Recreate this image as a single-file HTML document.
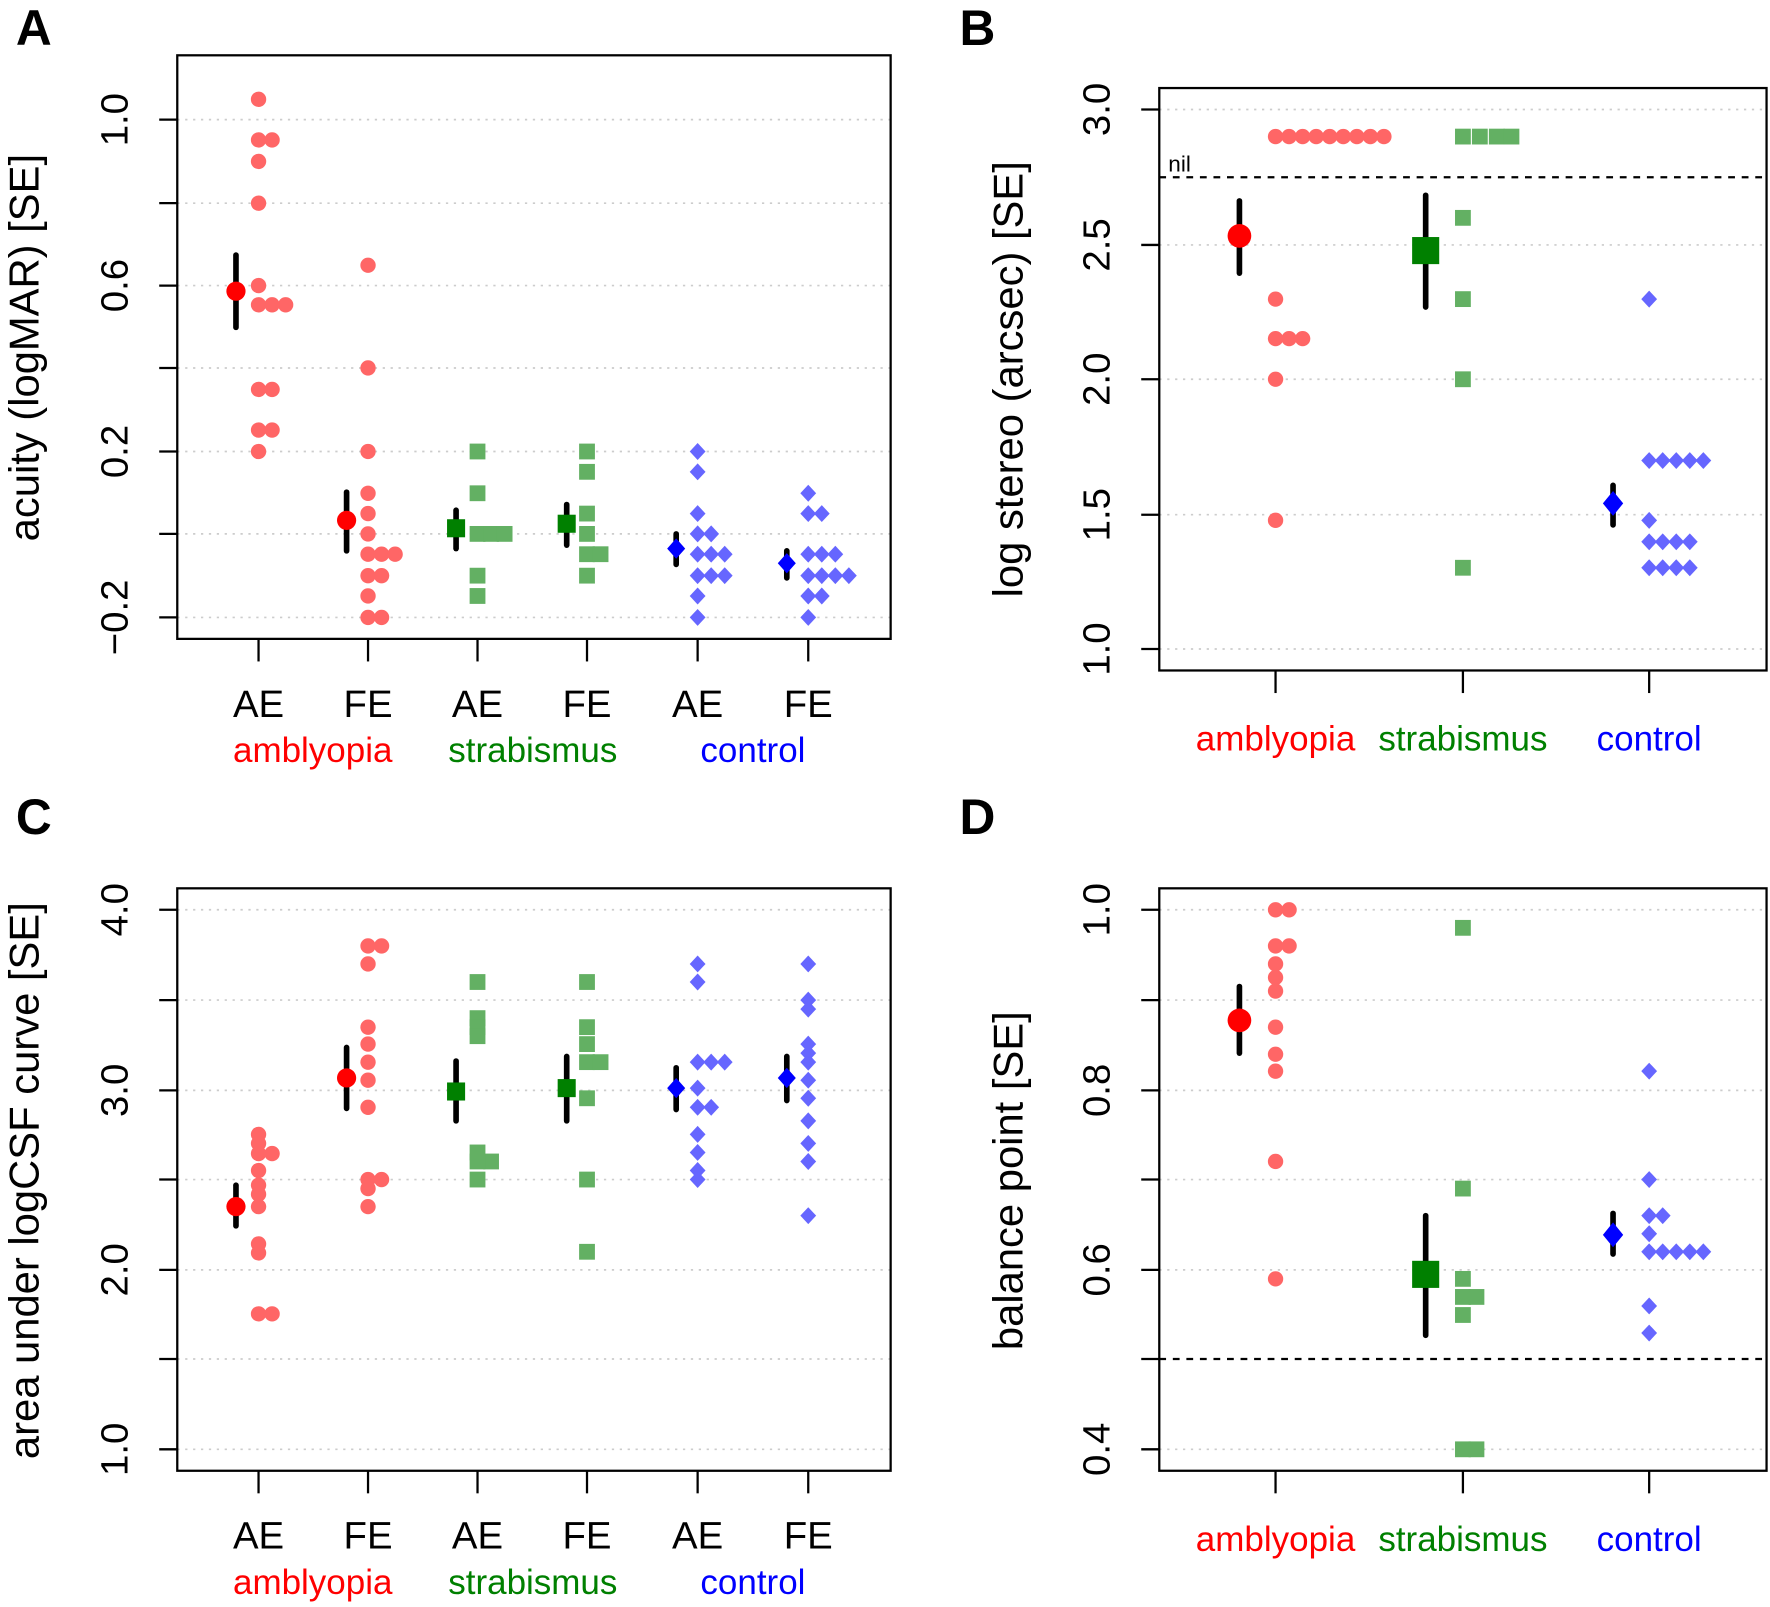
<!DOCTYPE html>
<html><head><meta charset="utf-8"><style>html,body{margin:0;padding:0;background:#fff}svg{display:block}</style></head>
<body>
<svg width="1770" height="1607" viewBox="0 0 1568 1423.7" xmlns="http://www.w3.org/2000/svg" font-family="Liberation Sans, Arial, sans-serif">
<defs>
<circle id="c" r="6.8" fill="#ff6666"/>
<rect id="s" x="-7" y="-7" width="14" height="14" fill="#63b063"/>
<path id="d" d="M0,-7.5L7,0L0,7.5L-7,0Z" fill="#6666ff"/>
</defs>
<rect width="1568" height="1424" fill="#fff"/>
<g font-weight="bold" font-size="44"><text x="14" y="40">A</text><text x="850" y="40">B</text><text x="14" y="739">C</text><text x="850" y="739">D</text></g>

<!-- ===== Panel A ===== -->
<g stroke="#ccc" stroke-width="1.5" stroke-dasharray="2,5">
<line x1="157" x2="789" y1="106" y2="106"/><line x1="157" x2="789" y1="180" y2="180"/><line x1="157" x2="789" y1="253" y2="253"/><line x1="157" x2="789" y1="326" y2="326"/><line x1="157" x2="789" y1="400" y2="400"/><line x1="157" x2="789" y1="473" y2="473"/><line x1="157" x2="789" y1="547" y2="547"/>
</g>
<rect x="157" y="49" width="632" height="517" fill="none" stroke="#000" stroke-width="2"/>
<g stroke="#000" stroke-width="2">
<line x1="141" x2="157" y1="106" y2="106"/><line x1="141" x2="157" y1="180" y2="180"/><line x1="141" x2="157" y1="253" y2="253"/><line x1="141" x2="157" y1="326" y2="326"/><line x1="141" x2="157" y1="400" y2="400"/><line x1="141" x2="157" y1="473" y2="473"/><line x1="141" x2="157" y1="547" y2="547"/>
<line x1="229" x2="229" y1="566" y2="586"/><line x1="326" x2="326" y1="566" y2="586"/><line x1="423" x2="423" y1="566" y2="586"/><line x1="520" x2="520" y1="566" y2="586"/><line x1="618" x2="618" y1="566" y2="586"/><line x1="716" x2="716" y1="566" y2="586"/>
</g>
<g font-size="34" text-anchor="middle">
<text transform="translate(113,106) rotate(-90)">1.0</text><text transform="translate(113,253) rotate(-90)">0.6</text><text transform="translate(113,400) rotate(-90)">0.2</text><text transform="translate(113,547) rotate(-90)">−0.2</text>
<text transform="translate(34,308) rotate(-90)" font-size="37">acuity (logMAR) [SE]</text>
<text x="229" y="635">AE</text><text x="326" y="635">FE</text><text x="423" y="635">AE</text><text x="520" y="635">FE</text><text x="618" y="635">AE</text><text x="716" y="635">FE</text>
<text x="277" y="675" font-size="31" fill="#ff0000">amblyopia</text><text x="472" y="675" font-size="31" fill="#008000">strabismus</text><text x="667" y="675" font-size="31" fill="#0000ff">control</text>
</g>
<g>
<use href="#c" x="229" y="88"/><use href="#c" x="229" y="124"/><use href="#c" x="241" y="124"/><use href="#c" x="229" y="143"/><use href="#c" x="229" y="180"/><use href="#c" x="229" y="253"/><use href="#c" x="229" y="270"/><use href="#c" x="241" y="270"/><use href="#c" x="253" y="270"/><use href="#c" x="229" y="345"/><use href="#c" x="241" y="345"/><use href="#c" x="229" y="381"/><use href="#c" x="241" y="381"/><use href="#c" x="229" y="400"/>
<use href="#c" x="326" y="235"/><use href="#c" x="326" y="326"/><use href="#c" x="326" y="400"/><use href="#c" x="326" y="437"/><use href="#c" x="326" y="455"/><use href="#c" x="326" y="473"/><use href="#c" x="326" y="491"/><use href="#c" x="338" y="491"/><use href="#c" x="350" y="491"/><use href="#c" x="326" y="510"/><use href="#c" x="338" y="510"/><use href="#c" x="326" y="528"/><use href="#c" x="326" y="547"/><use href="#c" x="338" y="547"/>
<use href="#s" x="423" y="400"/><use href="#s" x="423" y="437"/><use href="#s" x="423" y="473"/><use href="#s" x="435" y="473"/><use href="#s" x="447" y="473"/><use href="#s" x="423" y="510"/><use href="#s" x="423" y="528"/>
<use href="#s" x="520" y="400"/><use href="#s" x="520" y="418"/><use href="#s" x="520" y="455"/><use href="#s" x="520" y="473"/><use href="#s" x="520" y="491"/><use href="#s" x="532" y="491"/><use href="#s" x="520" y="510"/>
<use href="#d" x="618" y="400"/><use href="#d" x="618" y="418"/><use href="#d" x="618" y="455"/><use href="#d" x="618" y="473"/><use href="#d" x="630" y="473"/><use href="#d" x="618" y="491"/><use href="#d" x="630" y="491"/><use href="#d" x="642" y="491"/><use href="#d" x="618" y="510"/><use href="#d" x="630" y="510"/><use href="#d" x="642" y="510"/><use href="#d" x="618" y="528"/><use href="#d" x="618" y="547"/>
<use href="#d" x="716" y="437"/><use href="#d" x="716" y="455"/><use href="#d" x="728" y="455"/><use href="#d" x="716" y="491"/><use href="#d" x="728" y="491"/><use href="#d" x="740" y="491"/><use href="#d" x="716" y="510"/><use href="#d" x="728" y="510"/><use href="#d" x="740" y="510"/><use href="#d" x="752" y="510"/><use href="#d" x="716" y="528"/><use href="#d" x="728" y="528"/><use href="#d" x="716" y="547"/>
</g>
<g stroke="#000" stroke-width="5" stroke-linecap="round">
<line x1="209" x2="209" y1="226" y2="290"/><line x1="307" x2="307" y1="436" y2="488"/><line x1="404" x2="404" y1="452" y2="486"/><line x1="502" x2="502" y1="447" y2="483"/><line x1="599" x2="599" y1="473" y2="500"/><line x1="697" x2="697" y1="488" y2="512"/>
</g>
<circle cx="209" cy="258" r="8.5" fill="#f00"/><circle cx="307" cy="461" r="8.5" fill="#f00"/>
<rect x="396" y="460" width="16" height="16" fill="#008000"/><rect x="494" y="456" width="16" height="16" fill="#008000"/>
<path d="M599,477L607,486L599,495L591,486Z" fill="#00f"/><path d="M697,490L705,499L697,508L689,499Z" fill="#00f"/>

<!-- ===== Panel B ===== -->
<g stroke="#ccc" stroke-width="1.5" stroke-dasharray="2,5">
<line x1="1027" x2="1565" y1="97" y2="97"/><line x1="1027" x2="1565" y1="217" y2="217"/><line x1="1027" x2="1565" y1="336" y2="336"/><line x1="1027" x2="1565" y1="456" y2="456"/><line x1="1027" x2="1565" y1="575" y2="575"/>
</g>
<line x1="1027" x2="1565" y1="157" y2="157" stroke="#000" stroke-width="2" stroke-dasharray="6,6"/>
<text x="1035" y="152" font-size="20">nil</text>
<rect x="1027" y="78" width="538" height="516" fill="none" stroke="#000" stroke-width="2"/>
<g stroke="#000" stroke-width="2">
<line x1="1011" x2="1027" y1="97" y2="97"/><line x1="1011" x2="1027" y1="217" y2="217"/><line x1="1011" x2="1027" y1="336" y2="336"/><line x1="1011" x2="1027" y1="456" y2="456"/><line x1="1011" x2="1027" y1="575" y2="575"/>
<line x1="1130" x2="1130" y1="594" y2="614"/><line x1="1296" x2="1296" y1="594" y2="614"/><line x1="1461" x2="1461" y1="594" y2="614"/>
</g>
<g font-size="34" text-anchor="middle">
<text transform="translate(983,97) rotate(-90)">3.0</text><text transform="translate(983,217) rotate(-90)">2.5</text><text transform="translate(983,336) rotate(-90)">2.0</text><text transform="translate(983,456) rotate(-90)">1.5</text><text transform="translate(983,575) rotate(-90)">1.0</text>
<text transform="translate(906,336) rotate(-90)" font-size="37">log stereo (arcsec) [SE]</text>
<text x="1130" y="665" font-size="31" fill="#ff0000">amblyopia</text><text x="1296" y="665" font-size="31" fill="#008000">strabismus</text><text x="1461" y="665" font-size="31" fill="#0000ff">control</text>
</g>
<g>
<use href="#c" x="1130" y="121"/><use href="#c" x="1142" y="121"/><use href="#c" x="1154" y="121"/><use href="#c" x="1166" y="121"/><use href="#c" x="1178" y="121"/><use href="#c" x="1190" y="121"/><use href="#c" x="1202" y="121"/><use href="#c" x="1214" y="121"/><use href="#c" x="1226" y="121"/>
<use href="#c" x="1130" y="265"/><use href="#c" x="1130" y="300"/><use href="#c" x="1142" y="300"/><use href="#c" x="1154" y="300"/><use href="#c" x="1130" y="336"/><use href="#c" x="1130" y="461"/>
<use href="#s" x="1296" y="121"/><use href="#s" x="1311" y="121"/><use href="#s" x="1326" y="121"/><use href="#s" x="1339" y="121"/><use href="#s" x="1296" y="193"/><use href="#s" x="1296" y="265"/><use href="#s" x="1296" y="336"/><use href="#s" x="1296" y="503"/>
<use href="#d" x="1461" y="265"/><use href="#d" x="1461" y="408"/><use href="#d" x="1473" y="408"/><use href="#d" x="1485" y="408"/><use href="#d" x="1497" y="408"/><use href="#d" x="1509" y="408"/><use href="#d" x="1461" y="461"/><use href="#d" x="1461" y="480"/><use href="#d" x="1473" y="480"/><use href="#d" x="1485" y="480"/><use href="#d" x="1497" y="480"/><use href="#d" x="1461" y="503"/><use href="#d" x="1473" y="503"/><use href="#d" x="1485" y="503"/><use href="#d" x="1497" y="503"/>
</g>
<g stroke="#000" stroke-width="5" stroke-linecap="round">
<line x1="1098" x2="1098" y1="178" y2="242"/><line x1="1263" x2="1263" y1="173" y2="272"/><line x1="1429" x2="1429" y1="430" y2="465"/>
</g>
<circle cx="1098" cy="209" r="10.5" fill="#f00"/><rect x="1251" y="210" width="24" height="24" fill="#008000"/><path d="M1429,435L1438,446L1429,457L1420,446Z" fill="#00f"/>

<!-- ===== Panel C ===== -->
<g stroke="#ccc" stroke-width="1.5" stroke-dasharray="2,5">
<line x1="157" x2="789" y1="806" y2="806"/><line x1="157" x2="789" y1="886" y2="886"/><line x1="157" x2="789" y1="966" y2="966"/><line x1="157" x2="789" y1="1045" y2="1045"/><line x1="157" x2="789" y1="1125" y2="1125"/><line x1="157" x2="789" y1="1204" y2="1204"/><line x1="157" x2="789" y1="1284" y2="1284"/>
</g>
<rect x="157" y="787" width="632" height="516" fill="none" stroke="#000" stroke-width="2"/>
<g stroke="#000" stroke-width="2">
<line x1="141" x2="157" y1="806" y2="806"/><line x1="141" x2="157" y1="886" y2="886"/><line x1="141" x2="157" y1="966" y2="966"/><line x1="141" x2="157" y1="1045" y2="1045"/><line x1="141" x2="157" y1="1125" y2="1125"/><line x1="141" x2="157" y1="1204" y2="1204"/><line x1="141" x2="157" y1="1284" y2="1284"/>
<line x1="229" x2="229" y1="1303" y2="1323"/><line x1="326" x2="326" y1="1303" y2="1323"/><line x1="423" x2="423" y1="1303" y2="1323"/><line x1="520" x2="520" y1="1303" y2="1323"/><line x1="618" x2="618" y1="1303" y2="1323"/><line x1="716" x2="716" y1="1303" y2="1323"/>
</g>
<g font-size="34" text-anchor="middle">
<text transform="translate(113,806) rotate(-90)">4.0</text><text transform="translate(113,966) rotate(-90)">3.0</text><text transform="translate(113,1125) rotate(-90)">2.0</text><text transform="translate(113,1284) rotate(-90)">1.0</text>
<text transform="translate(34,1046) rotate(-90)" font-size="37">area under logCSF curve [SE]</text>
<text x="229" y="1372">AE</text><text x="326" y="1372">FE</text><text x="423" y="1372">AE</text><text x="520" y="1372">FE</text><text x="618" y="1372">AE</text><text x="716" y="1372">FE</text>
<text x="277" y="1412" font-size="31" fill="#ff0000">amblyopia</text><text x="472" y="1412" font-size="31" fill="#008000">strabismus</text><text x="667" y="1412" font-size="31" fill="#0000ff">control</text>
</g>
<g>
<use href="#c" x="229" y="1005"/><use href="#c" x="229" y="1013"/><use href="#c" x="229" y="1022"/><use href="#c" x="241" y="1022"/><use href="#c" x="229" y="1037"/><use href="#c" x="229" y="1050"/><use href="#c" x="229" y="1058"/><use href="#c" x="229" y="1069"/><use href="#c" x="229" y="1102"/><use href="#c" x="229" y="1110"/><use href="#c" x="229" y="1164"/><use href="#c" x="241" y="1164"/>
<use href="#c" x="326" y="838"/><use href="#c" x="338" y="838"/><use href="#c" x="326" y="854"/><use href="#c" x="326" y="910"/><use href="#c" x="326" y="925"/><use href="#c" x="326" y="941"/><use href="#c" x="326" y="957"/><use href="#c" x="326" y="981"/><use href="#c" x="326" y="1045"/><use href="#c" x="338" y="1045"/><use href="#c" x="326" y="1053"/><use href="#c" x="326" y="1069"/>
<use href="#s" x="423" y="870"/><use href="#s" x="423" y="902"/><use href="#s" x="423" y="910"/><use href="#s" x="423" y="918"/><use href="#s" x="423" y="1021"/><use href="#s" x="435" y="1029"/><use href="#s" x="423" y="1029"/><use href="#s" x="423" y="1045"/>
<use href="#s" x="520" y="870"/><use href="#s" x="520" y="910"/><use href="#s" x="520" y="925"/><use href="#s" x="520" y="941"/><use href="#s" x="532" y="941"/><use href="#s" x="520" y="973"/><use href="#s" x="520" y="1045"/><use href="#s" x="520" y="1109"/>
<use href="#d" x="618" y="854"/><use href="#d" x="618" y="870"/><use href="#d" x="618" y="941"/><use href="#d" x="630" y="941"/><use href="#d" x="642" y="941"/><use href="#d" x="618" y="964"/><use href="#d" x="618" y="981"/><use href="#d" x="630" y="981"/><use href="#d" x="618" y="1005"/><use href="#d" x="618" y="1021"/><use href="#d" x="618" y="1037"/><use href="#d" x="618" y="1045"/>
<use href="#d" x="716" y="854"/><use href="#d" x="716" y="886"/><use href="#d" x="716" y="894"/><use href="#d" x="716" y="925"/><use href="#d" x="716" y="933"/><use href="#d" x="716" y="941"/><use href="#d" x="716" y="957"/><use href="#d" x="716" y="973"/><use href="#d" x="716" y="993"/><use href="#d" x="716" y="1013"/><use href="#d" x="716" y="1029"/><use href="#d" x="716" y="1077"/>
</g>
<g stroke="#000" stroke-width="5" stroke-linecap="round">
<line x1="209" x2="209" y1="1050" y2="1086"/><line x1="307" x2="307" y1="928" y2="982"/><line x1="404" x2="404" y1="940" y2="993"/><line x1="502" x2="502" y1="936" y2="993"/><line x1="599" x2="599" y1="946" y2="983"/><line x1="697" x2="697" y1="936" y2="975"/>
</g>
<circle cx="209" cy="1069" r="8.5" fill="#f00"/><circle cx="307" cy="955" r="8.5" fill="#f00"/>
<rect x="396" y="959" width="16" height="16" fill="#008000"/><rect x="494" y="956" width="16" height="16" fill="#008000"/>
<path d="M599,955L607,964L599,973L591,964Z" fill="#00f"/><path d="M697,946L705,955L697,964L689,955Z" fill="#00f"/>

<!-- ===== Panel D ===== -->
<g stroke="#ccc" stroke-width="1.5" stroke-dasharray="2,5">
<line x1="1027" x2="1565" y1="806" y2="806"/><line x1="1027" x2="1565" y1="886" y2="886"/><line x1="1027" x2="1565" y1="966" y2="966"/><line x1="1027" x2="1565" y1="1045" y2="1045"/><line x1="1027" x2="1565" y1="1125" y2="1125"/><line x1="1027" x2="1565" y1="1284" y2="1284"/>
</g>
<line x1="1027" x2="1565" y1="1204" y2="1204" stroke="#000" stroke-width="2" stroke-dasharray="6,6"/>
<rect x="1027" y="787" width="538" height="516" fill="none" stroke="#000" stroke-width="2"/>
<g stroke="#000" stroke-width="2">
<line x1="1011" x2="1027" y1="806" y2="806"/><line x1="1011" x2="1027" y1="886" y2="886"/><line x1="1011" x2="1027" y1="966" y2="966"/><line x1="1011" x2="1027" y1="1045" y2="1045"/><line x1="1011" x2="1027" y1="1125" y2="1125"/><line x1="1011" x2="1027" y1="1204" y2="1204"/><line x1="1011" x2="1027" y1="1284" y2="1284"/>
<line x1="1130" x2="1130" y1="1303" y2="1323"/><line x1="1296" x2="1296" y1="1303" y2="1323"/><line x1="1461" x2="1461" y1="1303" y2="1323"/>
</g>
<g font-size="34" text-anchor="middle">
<text transform="translate(983,806) rotate(-90)">1.0</text><text transform="translate(983,966) rotate(-90)">0.8</text><text transform="translate(983,1125) rotate(-90)">0.6</text><text transform="translate(983,1284) rotate(-90)">0.4</text>
<text transform="translate(906,1046) rotate(-90)" font-size="37">balance point [SE]</text>
<text x="1130" y="1374" font-size="31" fill="#ff0000">amblyopia</text><text x="1296" y="1374" font-size="31" fill="#008000">strabismus</text><text x="1461" y="1374" font-size="31" fill="#0000ff">control</text>
</g>
<g>
<use href="#c" x="1130" y="806"/><use href="#c" x="1142" y="806"/><use href="#c" x="1130" y="838"/><use href="#c" x="1142" y="838"/><use href="#c" x="1130" y="854"/><use href="#c" x="1130" y="866"/><use href="#c" x="1130" y="878"/><use href="#c" x="1130" y="910"/><use href="#c" x="1130" y="934"/><use href="#c" x="1130" y="949"/><use href="#c" x="1130" y="1029"/><use href="#c" x="1130" y="1133"/>
<use href="#s" x="1296" y="822"/><use href="#s" x="1296" y="1053"/><use href="#s" x="1296" y="1133"/><use href="#s" x="1296" y="1149"/><use href="#s" x="1308" y="1149"/><use href="#s" x="1296" y="1165"/><use href="#s" x="1296" y="1284"/><use href="#s" x="1308" y="1284"/>
<use href="#d" x="1461" y="949"/><use href="#d" x="1461" y="1045"/><use href="#d" x="1461" y="1077"/><use href="#d" x="1473" y="1077"/><use href="#d" x="1461" y="1093"/><use href="#d" x="1461" y="1109"/><use href="#d" x="1473" y="1109"/><use href="#d" x="1485" y="1109"/><use href="#d" x="1497" y="1109"/><use href="#d" x="1509" y="1109"/><use href="#d" x="1461" y="1157"/><use href="#d" x="1461" y="1181"/>
</g>
<g stroke="#000" stroke-width="5" stroke-linecap="round">
<line x1="1098" x2="1098" y1="874" y2="933"/><line x1="1263" x2="1263" y1="1077" y2="1183"/><line x1="1429" x2="1429" y1="1075" y2="1111"/>
</g>
<circle cx="1098" cy="904" r="10.5" fill="#f00"/><rect x="1251" y="1117" width="24" height="24" fill="#008000"/><path d="M1429,1083L1438,1094L1429,1105L1420,1094Z" fill="#00f"/>
</svg>
</body></html>
